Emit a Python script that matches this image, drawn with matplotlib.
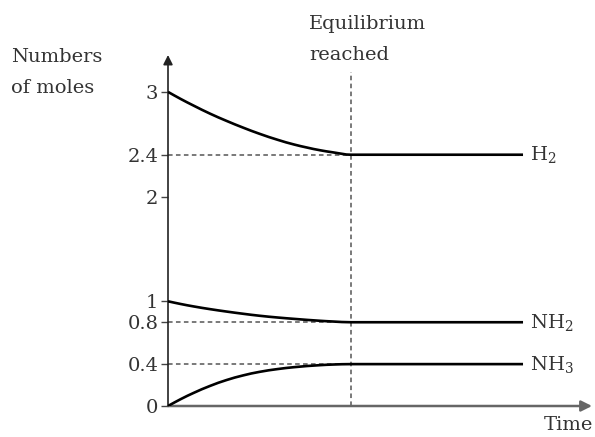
import matplotlib
matplotlib.use("Agg")
import matplotlib.pyplot as plt
from matplotlib.path import Path
from matplotlib.patches import PathPatch

plt.rcParams['font.family'] = ['DejaVu Serif']
plt.rcParams['mathtext.fontset'] = 'dejavuserif'

# Data (time in units where equilibrium is reached at t = 1)
time = [0, 0.07, 0.14, 0.23, 0.32, 0.41, 0.50, 0.60, 0.69, 0.83, 0.90, 1.00, 1.94]
h2 = [3.00, 2.932, 2.869, 2.792, 2.723, 2.659, 2.600, 2.542, 2.497, 2.443, 2.423, 2.400, 2.400]
nh2 = [1.00, 0.974, 0.951, 0.925, 0.902, 0.881, 0.862, 0.845, 0.832, 0.814, 0.807, 0.800, 0.800]
nh3 = [0.00, 0.066, 0.125, 0.192, 0.248, 0.292, 0.326, 0.353, 0.371, 0.390, 0.396, 0.400, 0.400]
series_labels = ["H$_2$", "NH$_2$", "NH$_3$"]
equilibrium_time = 1.0
eq_values = [2.4, 0.8, 0.4]
yticks = [0, 0.4, 0.8, 1, 2, 2.4, 3]
yticklabels = ["0", "0.4", "0.8", "1", "2", "2.4", "3"]

W, H = 595, 437
fig = plt.figure(figsize=(W / 100, H / 100), dpi=100)
ax = fig.add_axes([168 / W, 31 / H, 424 / W, 351 / H])
ax.set_xlim(0, 424 / 183)
ax.set_ylim(0, 351 / 104.7)
for s in ax.spines.values():
    s.set_visible(False)
ax.set_xticks([])
ax.set_yticks(yticks)
ax.set_yticklabels(yticklabels)
ax.tick_params(axis='y', length=5, width=1, color='#444444', labelsize=14,
               labelcolor='#333333', pad=2)

axis_col = '#555555'
txt_col = '#333333'
FS = 14

# axes with arrows
ax.annotate('', xy=(424 / 183, 0), xytext=(0, 0),
            arrowprops=dict(arrowstyle='-|>', color='#666666', lw=1.8,
                            mutation_scale=16, shrinkA=0, shrinkB=0),
            annotation_clip=False)
ax.annotate('', xy=(0, 351 / 104.7), xytext=(0, 0),
            arrowprops=dict(arrowstyle='-|>', color='#222222', lw=1.2,
                            mutation_scale=14, shrinkA=0, shrinkB=0),
            annotation_clip=False)

# dashed guide lines
for v in eq_values:
    ax.plot([0, equilibrium_time], [v, v], ls=(0, (3, 2.2)), color=axis_col, lw=1.1, zorder=1)
ax.plot([equilibrium_time, equilibrium_time], [0, 3.19], ls=(0, (3, 2.2)),
        color=axis_col, lw=1.1, zorder=1, clip_on=False)


def smooth_path(xs, ys):
    """Monotone (Fritsch-Carlson) cubic through the points, drawn as Bezier segments."""
    n = len(xs)
    h = [xs[i + 1] - xs[i] for i in range(n - 1)]
    d = [(ys[i + 1] - ys[i]) / h[i] for i in range(n - 1)]
    m = [0.0] * n
    m[0] = d[0]
    m[-1] = d[-1]
    for i in range(1, n - 1):
        if d[i - 1] * d[i] <= 0:
            m[i] = 0.0
        else:
            w1 = 2 * h[i] + h[i - 1]
            w2 = h[i] + 2 * h[i - 1]
            m[i] = (w1 + w2) / (w1 / d[i - 1] + w2 / d[i])
    verts = [(xs[0], ys[0])]
    codes = [Path.MOVETO]
    for i in range(n - 1):
        c1 = (xs[i] + h[i] / 3, ys[i] + m[i] * h[i] / 3)
        c2 = (xs[i + 1] - h[i] / 3, ys[i + 1] - m[i + 1] * h[i] / 3)
        verts += [c1, c2, (xs[i + 1], ys[i + 1])]
        codes += [Path.CURVE4] * 3
    return Path(verts, codes)


for ys in (h2, nh2, nh3):
    ax.add_patch(PathPatch(smooth_path(time, ys), fill=False, edgecolor='black',
                           lw=1.9, zorder=3, capstyle='butt', joinstyle='round'))

# labels at right
for ys, lab in zip((h2, nh2, nh3), series_labels):
    ax.text(time[-1] + 0.04, ys[-1], lab, fontsize=FS, color=txt_col,
            va='center', ha='left')

fig.text(11 / W, 1 - 57 / H, "Numbers", fontsize=FS, color=txt_col, va='center', ha='left')
fig.text(11 / W, 1 - 88 / H, "of moles", fontsize=FS, color=txt_col, va='center', ha='left')
fig.text(309 / W, 1 - 24 / H, "Equilibrium", fontsize=FS, color=txt_col, va='center', ha='left')
fig.text(309 / W, 1 - 55 / H, "reached", fontsize=FS, color=txt_col, va='center', ha='left')
fig.text(593 / W, 1 - 425 / H, "Time", fontsize=FS, color=txt_col, va='center', ha='right')

fig.savefig("out.png", dpi=100)
